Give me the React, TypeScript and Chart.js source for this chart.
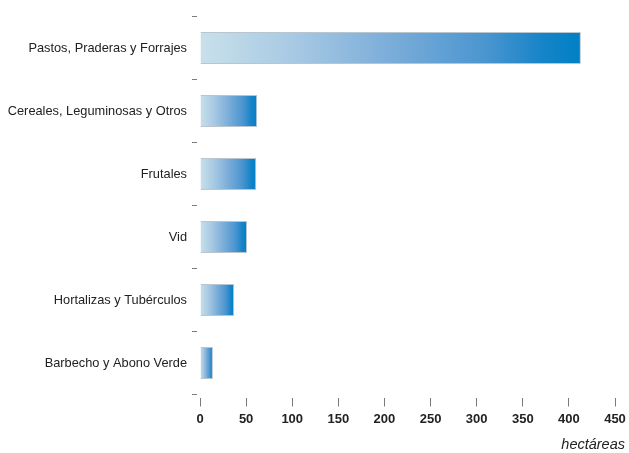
import React, { useEffect, useRef } from "react";
import { Chart, registerables } from "chart.js";

Chart.register(...registerables);

const categories = [
  "Pastos, Praderas y Forrajes",
  "Cereales, Leguminosas y Otros",
  "Frutales",
  "Vid",
  "Hortalizas y Tubérculos",
  "Barbecho y Abono Verde",
];
const hectareas = [413, 62, 61, 51, 37, 14];
const xTicks = [0, 50, 100, 150, 200, 250, 300, 350, 400, 450];
const axisTitle = "hectáreas";

const FONT = '"Liberation Sans", Arial, sans-serif';

export default function App() {
  const ref = useRef<HTMLCanvasElement | null>(null);

  useEffect(() => {
    if (!ref.current) return;

    const titlePlugin = {
      id: "xTitle",
      afterDraw(chart: any) {
        const ctx = chart.ctx;
        ctx.save();
        ctx.font = `italic 14.5px ${FONT}`;
        ctx.fillStyle = "#222";
        ctx.textAlign = "right";
        ctx.textBaseline = "alphabetic";
        ctx.fillText(axisTitle, 625, 449);
        ctx.restore();
      },
    };

    const chart = new Chart(ref.current, {
      type: "bar",
      data: {
        labels: categories,
        datasets: [
          {
            data: hectareas,
            backgroundColor: (context: any) => {
              const c = context.chart;
              const { chartArea } = c;
              if (!chartArea || context.type !== "data") return "#5a9fd4";
              const xs = c.scales.x;
              const x0 = xs.getPixelForValue(0);
              const x1 = xs.getPixelForValue(context.raw);
              const g = c.ctx.createLinearGradient(x0, 0, x1, 0);
              g.addColorStop(0, "#c8e0ea");
              g.addColorStop(0.25, "#a7c9e3");
              g.addColorStop(0.5, "#7badd9");
              g.addColorStop(0.75, "#4b95d0");
              g.addColorStop(0.9, "#1684c8");
              g.addColorStop(1, "#0080c6");
              return g;
            },
            borderColor: "#b9c6cf",
            borderWidth: 1,
            barPercentage: 0.51,
            categoryPercentage: 1,
          },
        ],
      },
      options: {
        indexAxis: "y",
        animation: false,
        responsive: true,
        maintainAspectRatio: false,
        layout: { padding: { top: 16.5, right: 14, left: 0, bottom: 0 } },
        plugins: {
          legend: { display: false },
          tooltip: { enabled: false },
        },
        scales: {
          x: {
            type: "linear",
            min: 0,
            max: 450,
            afterBuildTicks: (scale: any) => {
              scale.ticks = xTicks.map((v) => ({ value: v }));
            },
            afterFit: (scale: any) => {
              scale.height = 58.5;
              scale.paddingLeft = 0;
              scale.paddingRight = 0;
            },
            border: { display: false },
            grid: {
              display: true,
              drawOnChartArea: false,
              drawTicks: true,
              tickLength: 12,
              tickColor: "#7a7a7a",
              tickWidth: 1,
              tickBorderDash: [9, 3],
              tickBorderDashOffset: 9,
            },
            ticks: {
              padding: 5,
              color: "#222",
              font: { family: FONT, size: 13, weight: "bold" },
            },
          },
          y: {
            afterFit: (scale: any) => {
              scale.width = 200;
            },
            border: { display: false },
            grid: {
              display: true,
              offset: true,
              drawOnChartArea: false,
              drawTicks: true,
              tickLength: 8,
              tickColor: "#7a7a7a",
              tickWidth: 1,
              tickBorderDash: [5, 3],
            },
            ticks: {
              padding: 5,
              color: "#222",
              font: { family: FONT, size: 12.8 },
            },
          },
        },
      },
      plugins: [titlePlugin],
    } as any);

    return () => chart.destroy();
  }, []);

  return (
    <div style={{ position: "fixed", left: 0, top: 0, width: 629, height: 453, background: "#fff" }}>
      <canvas ref={ref} />
    </div>
  );
}
